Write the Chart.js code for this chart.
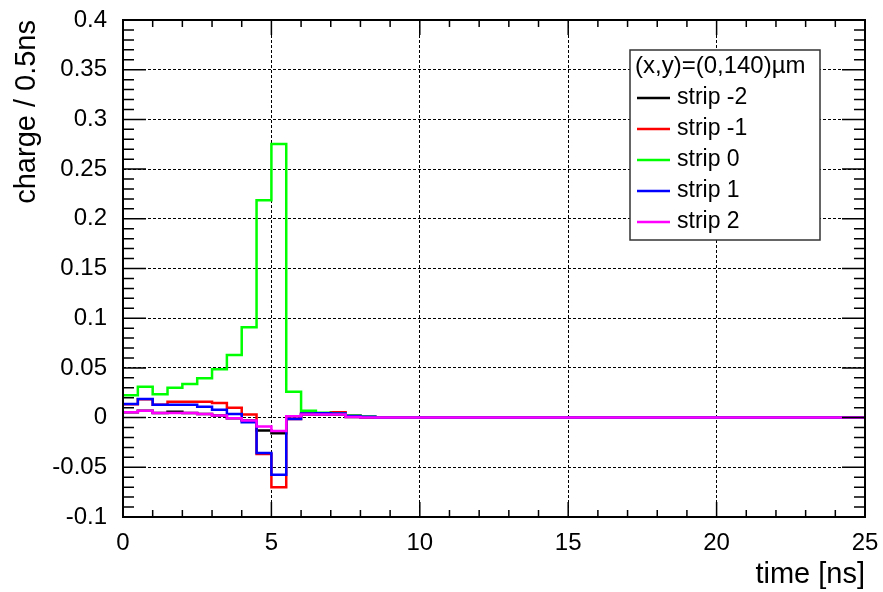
<!DOCTYPE html>
<html>
<head>
<meta charset="utf-8">
<script src="https://cdn.jsdelivr.net/npm/chart.js@4.4.1/dist/chart.umd.min.js"></script>
<style>
  html, body { margin: 0; padding: 0; background: #fff; }
  #wrap { width: 883px; height: 592px; }
</style>
</head>
<body>
<div id="wrap"><canvas id="chart" width="883" height="592"></canvas></div>
<script>
// bin width 0.5 ns, 50 bins from 0 to 25 ns
const binWidth = 0.5;
const xTicks = [0, 5, 10, 15, 20, 25];
const yTicks = [-0.1, -0.05, 0, 0.05, 0.1, 0.15, 0.2, 0.25, 0.3, 0.35, 0.4];
const legendHeader = '(x,y)=(0,140)\u00b5m';

const stripM2 = [0.0053, 0.007, 0.0047, 0.006, 0.0047, 0.0037, 0.002, -0.0007, -0.003, -0.013,
                 -0.0158, 0.0013, 0.003, 0.003, 0.003, 0.0007, 0, 0, 0, 0,
                 0, 0, 0, 0, 0, 0, 0, 0, 0, 0,
                 0, 0, 0, 0, 0, 0, 0, 0, 0, 0,
                 0, 0, 0, 0, 0, 0, 0, 0, 0, 0];
const stripM1 = [0.0135, 0.0185, 0.013, 0.016, 0.016, 0.016, 0.0148, 0.0098, 0.003, -0.0365,
                 -0.070, -0.0013, 0.004, 0.0045, 0.0055, 0.002, 0.0008, 0, 0, 0,
                 0, 0, 0, 0, 0, 0, 0, 0, 0, 0,
                 0, 0, 0, 0, 0, 0, 0, 0, 0, 0,
                 0, 0, 0, 0, 0, 0, 0, 0, 0, 0];
const strip0 = [0.0224, 0.031, 0.0234, 0.030, 0.0338, 0.0395, 0.0486, 0.063, 0.0908, 0.2186,
                0.2753, 0.026, 0.007, 0.005, 0.004, 0.002, 0.001, 0, 0, 0,
                0, 0, 0, 0, 0, 0, 0, 0, 0, 0,
                0, 0, 0, 0, 0, 0, 0, 0, 0, 0,
                0, 0, 0, 0, 0, 0, 0, 0, 0, 0];
const strip1 = [0.0138, 0.0188, 0.013, 0.013, 0.013, 0.011, 0.008, 0.0037, -0.0047, -0.0355,
                -0.0576, -0.0013, 0.004, 0.0045, 0.004, 0.0017, 0.0008, 0, 0, 0,
                0, 0, 0, 0, 0, 0, 0, 0, 0, 0,
                0, 0, 0, 0, 0, 0, 0, 0, 0, 0,
                0, 0, 0, 0, 0, 0, 0, 0, 0, 0];
const strip2 = [0.0053, 0.007, 0.0047, 0.0047, 0.0047, 0.0037, 0.002, -0.0007, -0.003, -0.009,
                -0.0135, 0.0013, 0.003, 0.003, 0.003, 0.0007, 0, 0, 0, 0,
                0, 0, 0, 0, 0, 0, 0, 0, 0, 0,
                0, 0, 0, 0, 0, 0, 0, 0, 0, 0,
                0, 0, 0, 0, 0, 0, 0, 0, 0, 0];

const seriesNames = ['strip -2', 'strip -1', 'strip 0', 'strip 1', 'strip 2'];
const seriesValues = [stripM2, stripM1, strip0, strip1, strip2];
const seriesColors = ['#000000', '#ff0000', '#00ff00', '#0000ff', '#ff00ff'];

// histogram -> step points at bin edges (last bin closed at the right edge)
function toSteps(vals) {
    const pts = vals.map((v, i) => ({ x: i * binWidth, y: v }));
    pts.push({ x: vals.length * binWidth, y: vals[vals.length - 1] });
    return pts;
}

const datasets = seriesNames.map((name, i) => ({
    label: name,
    data: toSteps(seriesValues[i]),
    borderColor: seriesColors[i],
    backgroundColor: seriesColors[i],
    borderWidth: 2.5,
    pointRadius: 0,
    stepped: 'before',
    fill: false,
    order: seriesNames.length - i   // later strips drawn on top, like ROOT
}));

const FONT = '"Liberation Sans", Arial, sans-serif';

// ROOT style frame with ticks on all four sides
const rootFrame = {
    id: 'rootFrame',
    afterDatasetsDraw(chart) {
        const { ctx, chartArea: a, scales: { x, y } } = chart;
        ctx.save();
        ctx.strokeStyle = '#000';
        ctx.lineWidth = 1.5;
        ctx.beginPath();
        for (let v = 0; v <= 25.001; v += 1) {
            const px = x.getPixelForValue(v);
            const len = (Math.round(v) % 5 === 0) ? 15 : 7;
            ctx.moveTo(px, a.bottom); ctx.lineTo(px, a.bottom - len);
            ctx.moveTo(px, a.top); ctx.lineTo(px, a.top + len);
        }
        for (let k = -10; k <= 40; k++) {
            const py = y.getPixelForValue(k / 100);
            const len = (k % 5 === 0) ? 23 : 11;
            ctx.moveTo(a.left, py); ctx.lineTo(a.left + len, py);
            ctx.moveTo(a.right, py); ctx.lineTo(a.right - len, py);
        }
        ctx.stroke();
        ctx.lineWidth = 2;
        ctx.strokeRect(a.left, a.top, a.right - a.left, a.bottom - a.top);
        ctx.restore();
    }
};

// legend box in the upper right of the frame
const rootLegend = {
    id: 'rootLegend',
    afterDraw(chart) {
        const ctx = chart.ctx;
        const bx = 630, by = 50, bw = 190, bh = 190;
        ctx.save();
        ctx.fillStyle = '#fff';
        ctx.fillRect(bx, by, bw, bh);
        ctx.strokeStyle = '#333';
        ctx.lineWidth = 1.5;
        ctx.strokeRect(bx, by, bw, bh);
        ctx.fillStyle = '#000';
        ctx.textBaseline = 'middle';
        ctx.font = '24px ' + FONT;
        ctx.fillText(legendHeader, bx + 5, by + 16);
        ctx.font = '23px ' + FONT;
        seriesNames.forEach((name, i) => {
            const cy = by + 48 + i * 31;
            ctx.strokeStyle = seriesColors[i];
            ctx.lineWidth = 2.5;
            ctx.beginPath();
            ctx.moveTo(bx + 7, cy); ctx.lineTo(bx + 40, cy);
            ctx.stroke();
            ctx.fillStyle = '#000';
            ctx.fillText(name, bx + 47, cy);
        });
        ctx.restore();
    }
};

new Chart(document.getElementById('chart').getContext('2d'), {
    type: 'line',
    data: { datasets: datasets },
    plugins: [rootFrame, rootLegend],
    options: {
        responsive: false,
        animation: false,
        layout: { padding: { top: 20, right: 18, left: 0, bottom: 0 } },
        plugins: { legend: { display: false }, tooltip: { enabled: false } },
        scales: {
            x: {
                type: 'linear',
                min: 0,
                max: 25,
                afterFit(scale) { scale.height = 75; scale.paddingLeft = 0; scale.paddingRight = 0; },
                afterBuildTicks(scale) { scale.ticks = xTicks.map(v => ({ value: v })); },
                ticks: { color: '#000', font: { family: FONT, size: 24 }, padding: 12, maxRotation: 0 },
                grid: { color: '#000', lineWidth: 1, drawTicks: false },
                border: { display: false, dash: [3, 2] },
                title: {
                    display: true, text: 'time [ns]', align: 'end', color: '#000',
                    font: { family: FONT, size: 29 }, padding: { top: 0, bottom: 0 }
                }
            },
            y: {
                min: -0.1,
                max: 0.4,
                afterFit(scale) { scale.width = 123; scale.paddingTop = 0; scale.paddingBottom = 0; },
                afterBuildTicks(scale) { scale.ticks = yTicks.map(v => ({ value: v })); },
                ticks: {
                    color: '#000', font: { family: FONT, size: 24 }, padding: 16,
                    callback: v => String(Number(v.toFixed(2)))
                },
                grid: { color: '#000', lineWidth: 1, drawTicks: false },
                border: { display: false, dash: [3, 2] },
                title: {
                    display: true, text: 'charge / 0.5ns', align: 'end', color: '#000',
                    font: { family: FONT, size: 29 }, padding: { top: 10, bottom: 10 }
                }
            }
        }
    }
});
</script>
</body>
</html>
